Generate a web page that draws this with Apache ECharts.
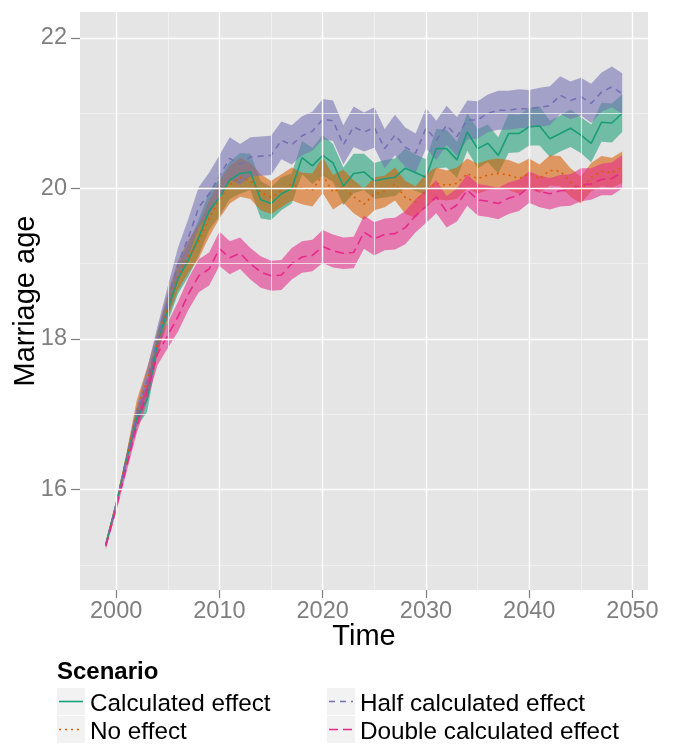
<!DOCTYPE html>
<html><head><meta charset="utf-8">
<script src="https://cdn.jsdelivr.net/npm/echarts@6/dist/echarts.min.js"></script>
<style>html,body{margin:0;padding:0;background:#fff}#c{width:674px;height:744px}</style>
</head><body><div id="c"></div>
<script>
const years = [1999,2000,2001,2002,2003,2004,2005,2006,2007,2008,
  2009,2010,2011,2012,2013,2014,2015,2016,2017,2018,
  2019,2020,2021,2022,2023,2024,2025,2026,2027,2028,
  2029,2030,2031,2032,2033,2034,2035,2036,2037,2038,
  2039,2040,2041,2042,2043,2044,2045,2046,2047,2048,2049];

const scenarioNames = ['Calculated effect','No effect','Half calculated effect','Double calculated effect'];
const xTitle = 'Time';
const yTitle = 'Marriage age';

const calcMean = [15.27,15.8,16.4,16.95,17.2,17.95,18.4,18.8,19.05,19.35,
  19.7,19.88,20.11,20.2,20.22,19.85,19.8,19.93,20.0,20.41,
  20.3,20.44,20.34,20.03,20.2,20.22,20.1,20.13,20.15,20.27,
  20.21,20.15,20.53,20.53,20.38,20.75,20.53,20.6,20.44,20.73,
  20.73,20.82,20.83,20.66,20.73,20.8,20.71,20.6,20.88,20.87,21.0];
const calcHW = [.04,.05,.07,.12,.17,.15,.17,.2,.22,.24,
  .25,.25,.25,.27,.24,.25,.22,.22,.2,.22,
  .24,.27,.25,.25,.26,.24,.24,.25,.25,.26,
  .24,.24,.26,.25,.24,.25,.26,.25,.24,.26,
  .25,.25,.26,.24,.24,.25,.24,.25,.26,.26,.25];

const noMean = [15.27,15.8,16.42,17.05,17.45,17.95,18.45,18.85,19.1,19.3,
  19.6,19.85,20.05,20.15,20.1,19.95,19.88,19.97,20.06,20.0,
  19.98,20.18,19.95,20.03,19.89,19.79,19.93,19.96,20.06,19.88,
  19.82,19.98,20.07,20.04,20.07,20.2,20.13,20.18,20.2,20.18,
  20.13,20.2,20.13,20.24,20.23,20.08,19.98,20.15,20.23,20.21,20.28];
const noHW = [.04,.05,.07,.14,.17,.15,.17,.2,.22,.23,
  .24,.25,.25,.26,.24,.24,.22,.22,.22,.21,
  .22,.24,.23,.22,.22,.21,.22,.21,.22,.22,
  .21,.22,.21,.2,.21,.2,.2,.2,.2,.2,
  .2,.2,.19,.2,.2,.19,.18,.19,.2,.2,.21];

const halfMean = [15.27,15.8,16.4,17.0,17.45,18.0,18.5,19.0,19.35,19.75,
  19.93,20.16,20.4,20.32,20.42,20.43,20.44,20.64,20.58,20.7,
  20.76,20.92,20.9,20.58,20.82,20.75,20.81,20.53,20.71,20.55,
  20.47,20.8,20.64,20.84,20.69,20.91,20.91,21.0,21.04,21.04,
  21.06,21.06,21.08,21.1,21.24,21.17,21.22,21.13,21.28,21.35,21.26];
const halfHW = [.04,.05,.07,.11,.15,.17,.2,.22,.25,.27,
  .28,.28,.28,.27,.26,.26,.26,.25,.26,.26,
  .26,.27,.27,.26,.27,.26,.27,.26,.27,.26,
  .26,.27,.26,.26,.26,.26,.25,.25,.26,.26,
  .26,.25,.26,.26,.25,.25,.25,.26,.26,.27,.27];

const doubleMean = [15.25,15.75,16.3,16.85,17.3,17.8,18.05,18.3,18.6,18.84,
  18.93,19.2,19.08,19.14,19.0,18.89,18.84,18.85,19.0,19.09,
  19.11,19.23,19.17,19.14,19.15,19.42,19.33,19.39,19.4,19.48,
  19.64,19.76,19.89,19.69,19.78,19.98,19.85,19.83,19.8,19.87,
  19.91,20.02,19.96,19.93,19.97,19.98,20.05,20.06,20.12,20.13,20.22];
const doubleHW = [.04,.05,.07,.1,.13,.15,.17,.2,.21,.22,
  .22,.23,.22,.21,.21,.21,.2,.2,.21,.21,
  .21,.22,.22,.21,.21,.22,.22,.21,.21,.22,
  .22,.22,.22,.21,.22,.21,.21,.21,.21,.21,
  .21,.21,.21,.21,.21,.21,.22,.21,.21,.22,.22];

const xTicks = [2000,2010,2020,2030,2040,2050];
const xMinor = [2005,2015,2025,2035,2045];
const yTicks = [16,18,20,22];
const yMinor = [15,17,19,21];

const colors = ['#1B9E77','#D95F02','#7570B3','#E7298A'];
const dashes = ['solid',[2,4],[6,5],[9,5]];
const means = [calcMean,noMean,halfMean,doubleMean];
const hws = [calcHW,noHW,halfHW,doubleHW];

function ribbon(k){
  const mean = means[k], hw = hws[k];
  return {
    type:'custom', name: scenarioNames[k]+' band', silent:true, z:2,
    data: years.map((y,i)=>[y, mean[i]-hw[i], mean[i]+hw[i]]),
    encode:{x:0, y:[1,2]},
    renderItem:function(params, api){
      if (params.dataIndex !== 0) return null;
      const pts = [];
      for (let i=0;i<years.length;i++) pts.push(api.coord([years[i], mean[i]+hw[i]]));
      for (let i=years.length-1;i>=0;i--) pts.push(api.coord([years[i], mean[i]-hw[i]]));
      return {type:'polygon', shape:{points:pts}, style:{fill:colors[k], opacity:0.58}};
    }
  };
}
function line(k){
  return {
    type:'line', name: scenarioNames[k], z:3, showSymbol:false, symbol:'none',
    data: years.map((y,i)=>[y, means[k][i]]),
    lineStyle:{color:colors[k], width:1.6, type:dashes[k]},
    itemStyle:{color:colors[k]},
    animation:false
  };
}
const major = {color:'#ffffff', width:1.4, type:'solid'};
const minor = {color:'#f2f2f2', width:0.8, type:'solid'};
const gridSeries = {
  type:'line', name:'grid', z:1, silent:true, symbol:'none',
  data:[[years[0], calcMean[0]]], lineStyle:{opacity:0},
  markLine:{silent:true, symbol:'none', animation:false, label:{show:false},
    emphasis:{disabled:true},
    data: [].concat(
      xMinor.map(v=>({xAxis:v, lineStyle:minor})),
      yMinor.map(v=>({yAxis:v, lineStyle:minor})),
      xTicks.map(v=>({xAxis:v, lineStyle:major})),
      yTicks.map(v=>({yAxis:v, lineStyle:major}))
    )}
};

const font = 'Liberation Sans, Arial, Helvetica, sans-serif';
const chart = echarts.init(document.getElementById('c'), null, {renderer:'canvas'});
const series = [gridSeries];
for (let k=0;k<4;k++) series.push(ribbon(k));
for (let k=0;k<4;k++) series.push(line(k));

// legend key boxes with line samples
const keyPos = [[57,688],[57,716],[327,688],[327,716]];
const keyGraphics = [];
keyPos.forEach((p,k)=>{
  keyGraphics.push({type:'rect', shape:{x:p[0],y:p[1],width:28,height:27}, style:{fill:'#f2f2f2'}, z:-1});
  keyGraphics.push({type:'line', shape:{x1:p[0]+2,y1:p[1]+13.5,x2:p[0]+26,y2:p[1]+13.5},
    style:{stroke:colors[k], lineWidth:1.6, lineDash: dashes[k]==='solid'?null:dashes[k]}, z:1});
});

const legendCommon = {orient:'vertical', top:690, height:56, padding:0, itemWidth:28, itemHeight:28, itemGap:0, icon:'rect',
  itemStyle:{color:'rgba(0,0,0,0)', borderWidth:0, opacity:0}, lineStyle:{opacity:0},
  textStyle:{fontFamily:font, fontSize:24.3, color:'#000'}, selectedMode:false};

chart.setOption({
  animation:false,
  backgroundColor:'#ffffff',
  grid:{left:80, top:12, right:26, bottom:154, show:true, backgroundColor:'#e5e5e5', borderWidth:0,
    containLabel:false, outerBoundsMode:'none'},
  xAxis:{type:'value', min:1996.5, max:2051.5,
    axisLine:{show:false}, splitLine:{show:false},
    axisTick:{show:true, length:8, lineStyle:{color:'#7f7f7f', width:1.2}, customValues:xTicks},
    axisLabel:{customValues:xTicks, margin:10, fontFamily:font, fontSize:23.5, color:'#7f7f7f',
      formatter:function(v){return String(v);}}
  },
  yAxis:{type:'value', min:14.665, max:22.345,
    axisLine:{show:false}, splitLine:{show:false},
    axisTick:{show:true, length:9, lineStyle:{color:'#7f7f7f', width:1.2}, customValues:yTicks},
    axisLabel:{customValues:yTicks, margin:13, fontFamily:font, fontSize:23.5, color:'#7f7f7f',
      formatter:function(v){return String(v);}}
  },
  legend:[
    Object.assign({data:scenarioNames.slice(0,2), left:57}, legendCommon),
    Object.assign({data:scenarioNames.slice(2,4), left:327}, legendCommon)
  ],
  graphic:[
    {type:'text', left:57, top:660, style:{text:'Scenario', fontFamily:font, fontSize:24, fontWeight:'bold', fill:'#000'}},
    {type:'text', x:364, y:637, style:{text:xTitle, fontFamily:font, fontSize:29, fill:'#000', align:'center', verticalAlign:'middle'}},
    {type:'text', x:26, y:301, rotation:Math.PI/2, style:{text:yTitle, fontFamily:font, fontSize:29, fill:'#000', align:'center', verticalAlign:'middle'}}
  ].concat(keyGraphics),
  series: series
});
</script></body></html>
